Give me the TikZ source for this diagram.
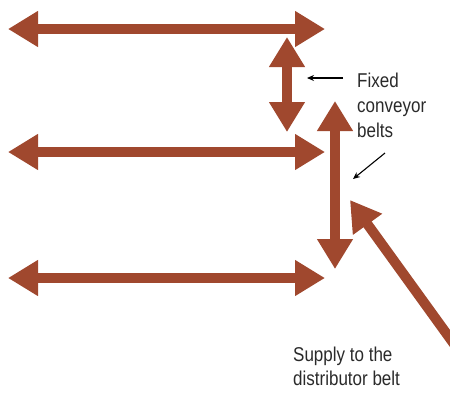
\documentclass[tikz,border=0pt]{standalone}
\usepackage{fontspec}
\setmainfont{Liberation Sans}[FakeStretch=0.85]
\usetikzlibrary{arrows.meta}
\definecolor{belt}{HTML}{A0482E}
\definecolor{txt}{HTML}{2A2A2A}
\tikzset{
  beltarrow/.style={draw=belt, line width=10pt,
    arrows={-{Triangle[width=34pt,length=30pt]}}},
  beltboth/.style={draw=belt, line width=10pt,
    arrows={{Triangle[width=34pt,length=30pt]}-{Triangle[width=34pt,length=30pt]}}},
  pointer/.style={draw=black, line width=1.1pt, -{Stealth[length=7pt,width=6pt]}},
  lbl/.style={anchor=base west, inner sep=0pt, text=txt, font=\fontsize{20}{24}\selectfont}
}
\begin{document}
\begin{tikzpicture}[x=1pt,y=-1pt]
\useasboundingbox (0,0) rectangle (450,392);
% horizontal belts
\coordinate (h1l) at (8,29);   \coordinate (h1r) at (325,29);
\coordinate (h2l) at (8,152);  \coordinate (h2r) at (325,152);
\coordinate (h3l) at (8,278);  \coordinate (h3r) at (325,278);
\draw[beltboth] (h1l) -- (h1r);
\draw[beltboth] (h2l) -- (h2r);
\draw[beltboth] (h3l) -- (h3r);
% vertical belts
\coordinate (v1t) at (287,37);  \coordinate (v1b) at (287,132);
\coordinate (v2t) at (335,101); \coordinate (v2b) at (335,269);
\draw[beltboth] (v1t) -- (v1b);
\draw[beltboth] (v2t) -- (v2b);
% supply belt
\coordinate (s0) at (454,344); \coordinate (s1) at (350,200);
\draw[beltarrow] (s0) -- (s1);
% labels
\node[lbl] (f1) at (357,87) {Fixed};
\node[lbl] (f2) at (357,112) {conveyor};
\node[lbl] (f3) at (357,137) {belts};
\node[lbl] (p1) at (293,361) {Supply to the};
\node[lbl] (p2) at (293,385) {distributor belt};
% pointers
\coordinate (a1s) at (343,78); \coordinate (a1e) at (307,78);
\coordinate (a2s) at (385,153); \coordinate (a2e) at (353,179);
\draw[pointer] (a1s) -- (a1e);
\draw[pointer] (a2s) -- (a2e);
\end{tikzpicture}
\end{document}
